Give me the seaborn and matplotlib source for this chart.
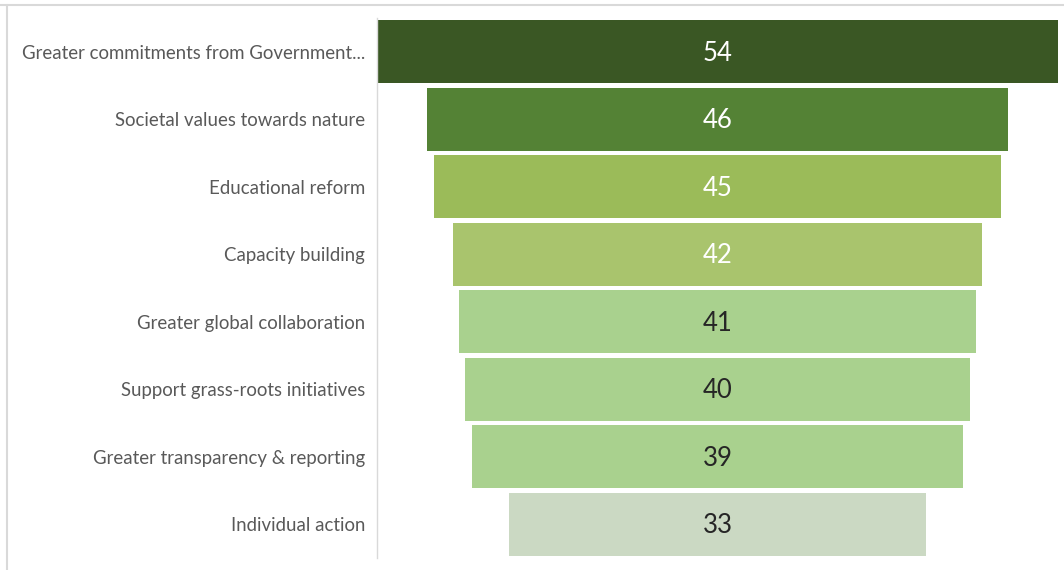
import matplotlib
matplotlib.use("Agg")
import matplotlib.pyplot as plt
from matplotlib.lines import Line2D
import seaborn as sns

# Funnel data: what would help most, ranked
categories = [
    "Greater commitments from Government...",
    "Societal values towards nature",
    "Educational reform",
    "Capacity building",
    "Greater global collaboration",
    "Support grass-roots initiatives",
    "Greater transparency & reporting",
    "Individual action",
]
values = [54, 46, 45, 42, 41, 40, 39, 33]
bar_colors = ["#3A5724", "#548235", "#9BBB59", "#A9C46D",
              "#A9D18E", "#A9D18E", "#A9D18E", "#CBD9C3"]
label_colors = ["white", "white", "white", "white",
                "#262626", "#262626", "#262626", "#262626"]

sns.set_theme(style="white")
plt.rcParams["font.family"] = ["Lato", "DejaVu Sans"]

fig = plt.figure(figsize=(10.64, 5.70), dpi=100)
ax = fig.add_axes([0.3543, 0.0211, 0.6401, 0.9473])

sns.barplot(x=values, y=categories, hue=categories, palette=bar_colors,
            legend=False, width=0.93, saturation=1, linewidth=0, ax=ax)

# centre each bar on the widest one to form the funnel
top = max(values)
for patch, v in zip(ax.patches, values):
    patch.set_x((top - v) / 2)

for i, (v, c) in enumerate(zip(values, label_colors)):
    ax.text(top / 2, i + 0.02, f"{v}", ha="center", va="center",
            fontsize=18.5, color=c)

ax.set_xlim(0, top)
ax.set_ylim(len(values) - 0.5, -0.5)
ax.set_xlabel("")
ax.set_ylabel("")
ax.set_xticks([])
ax.tick_params(axis="y", length=0, pad=8.5, labelsize=13.4, labelcolor="#595959")
for side in ["top", "right", "bottom"]:
    ax.spines[side].set_visible(False)
ax.spines["left"].set_color("#D9D9D9")
ax.spines["left"].set_linewidth(1)

# thin frame lines along the top and left edge of the figure
fig.add_artist(Line2D([0, 1], [0.9912, 0.9912], transform=fig.transFigure,
                      color="#D9D9D9", linewidth=1.5))
fig.add_artist(Line2D([0.0066, 0.0066], [0, 0.9912], transform=fig.transFigure,
                      color="#D9D9D9", linewidth=1.5))

fig.savefig("out.png", dpi=100, facecolor="white")
